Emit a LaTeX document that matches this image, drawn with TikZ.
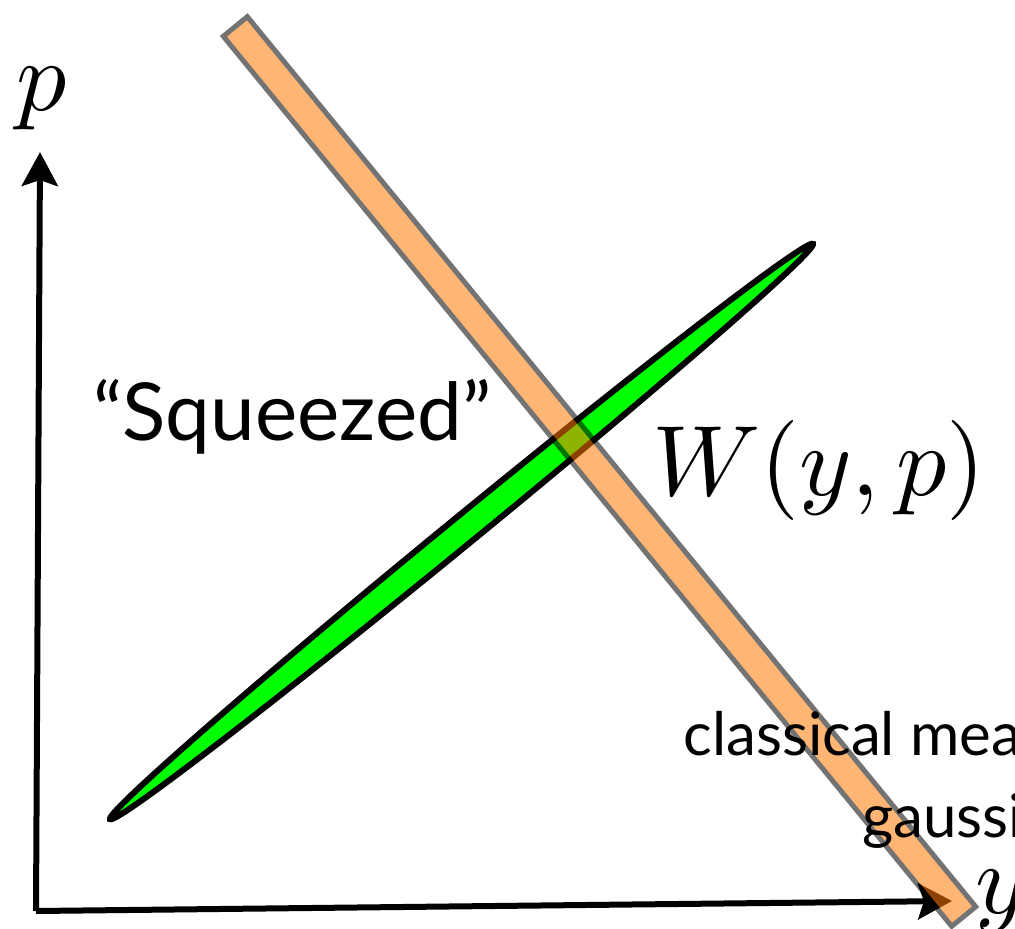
\documentclass[tikz,border=0pt]{standalone}
\usepackage{fontspec}
\newfontfamily\labelfont{Lato}
\usetikzlibrary{arrows.meta}
\definecolor{barorange}{RGB}{255,120,0}
\definecolor{sqgreen}{RGB}{0,255,0}
\begin{document}
\begin{tikzpicture}[x=0.5pt,y=-0.5pt,
  axis/.style={line width=3pt, -{Stealth[length=17pt,width=18pt,inset=3pt]}},
  mathlabel/.style={inner sep=0pt, scale=5, font=\fontsize{10}{12}\selectfont},
  textlabel/.style={inner sep=0pt, font=\labelfont\fontsize{#1}{#1}\selectfont},
  squeezed/.style={draw=black, fill=sqgreen, line width=3pt},
  barstyle/.style={draw=black, fill=barorange, line width=2.5pt, line join=miter}]
\useasboundingbox (0,0) rectangle (1015,929);
\clip (0,0) rectangle (1015,929);
% axes
\coordinate (O) at (36,911);
\coordinate (ptip) at (40,152);
\coordinate (ytip) at (952,901);
\draw[axis] (O) -- (ptip);
\draw[axis] (O) -- (ytip);
\node[mathlabel, anchor=base] (plabel) at (42,111) {$p$};
\node[mathlabel, anchor=base west] (ylabel) at (973,913) {$y$};
% squeezed Wigner function
\coordinate (C) at (461.5,531.5);
\begin{scope}[shift={(C)}, rotate=39.3]
  \draw[squeezed] (0,0) ellipse [x radius=227pt, y radius=7pt];
\end{scope}
\node[textlabel=40, anchor=base west] (sq) at (93,441) {“Squeezed”};
\node[mathlabel, anchor=base west] (W) at (650,495) {$W(y,p)$};
% classical measurement band
\coordinate (b1) at (247.3,16.7);
\coordinate (b2) at (975.7,906.7);
\coordinate (b3) at (951.7,926.3);
\coordinate (b4) at (223.3,36.3);
\begin{scope}[transparency group, opacity=0.55]
  \draw[barstyle] (b1) -- (b2) -- (b3) -- (b4) -- cycle;
\end{scope}
\node[textlabel=30, anchor=base west] (cl) at (683,755) {classical mea};
\node[textlabel=30, anchor=base west] (ga) at (862,837) {gaussi};
\end{tikzpicture}
\end{document}
